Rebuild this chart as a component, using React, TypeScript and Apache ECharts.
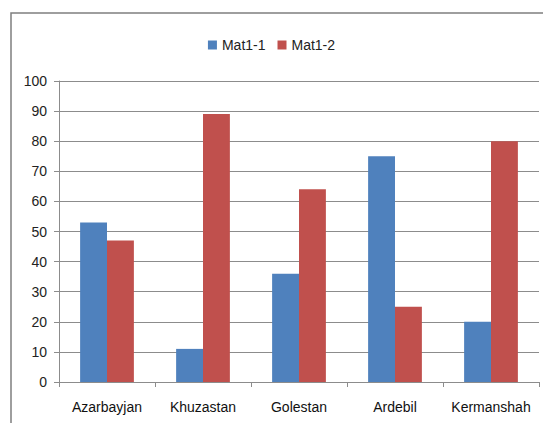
import React, { useEffect, useRef } from "react";
import * as echarts from "echarts";

const categories = ["Azarbayjan", "Khuzastan", "Golestan", "Ardebil", "Kermanshah"];
const mat11 = [53, 11, 36, 75, 20];
const mat12 = [47, 89, 64, 25, 80];
const seriesNames = ["Mat1-1", "Mat1-2"];

const FONT = "'Liberation Sans', sans-serif";

export default function App() {
  const ref = useRef<HTMLDivElement>(null);
  useEffect(() => {
    if (!ref.current) return;
    const chart = echarts.init(ref.current, null, { renderer: "svg" });
    chart.setOption({
      animation: false,
      backgroundColor: "#ffffff",
      textStyle: { fontFamily: FONT },
      graphic: [
        {
          type: "rect",
          shape: { x: 11, y: 13, width: 600, height: 500 },
          style: { fill: "none", stroke: "#7f7f7f", lineWidth: 1.5 },
          silent: true,
        },
      ],
      legend: {
        data: seriesNames,
        top: 33,
        left: "center",
        itemWidth: 9,
        itemHeight: 9,
        itemGap: 12,
        icon: "rect",
        textStyle: { fontSize: 14, color: "#222", fontFamily: FONT },
      },
      grid: { left: 59, right: 4, top: 81, bottom: 41, containLabel: false },
      xAxis: {
        type: "category",
        data: categories,
        axisLine: { show: true, lineStyle: { color: "#8c8c8c", width: 1 } },
        axisTick: { show: true, length: 5, lineStyle: { color: "#8c8c8c" } },
        axisLabel: { interval: 0, fontSize: 14, color: "#111", margin: 18, fontFamily: FONT },
      },
      yAxis: {
        type: "value",
        min: 0,
        max: 100,
        interval: 10,
        axisLine: { show: true, lineStyle: { color: "#8c8c8c", width: 1 } },
        axisTick: { show: true, length: 5, lineStyle: { color: "#8c8c8c" } },
        axisLabel: { fontSize: 14, color: "#222", margin: 12, fontFamily: FONT },
        splitLine: { show: true, lineStyle: { color: "#8c8c8c", width: 1 } },
      },
      series: [
        {
          name: seriesNames[0],
          type: "bar",
          data: mat11,
          itemStyle: { color: "#4f81bd" },
          barGap: "0%",
          barCategoryGap: "44%",
        },
        {
          name: seriesNames[1],
          type: "bar",
          data: mat12,
          itemStyle: { color: "#c0504d" },
          barGap: "0%",
          barCategoryGap: "44%",
        },
      ],
    });
    return () => chart.dispose();
  }, []);
  return (
    <div
      ref={ref}
      style={{ position: "fixed", left: 0, top: 0, width: 543, height: 423 }}
    />
  );
}
